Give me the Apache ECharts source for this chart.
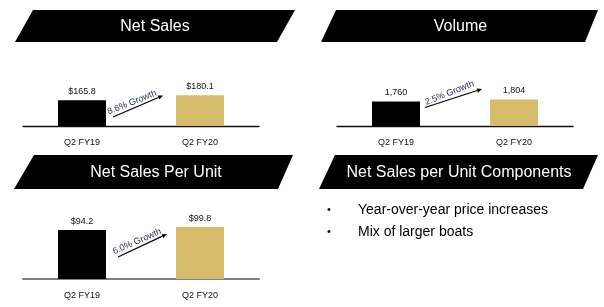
<!DOCTYPE html>
<html>
<head>
<meta charset="utf-8">
<script src="https://cdn.jsdelivr.net/npm/echarts@6/dist/echarts.min.js"></script>
<style>
html,body{margin:0;padding:0;background:#fff;}
#c{width:604px;height:307px;}
</style>
</head>
<body>
<div id="c"></div>
<script>
const categories = ['Q2 FY19', 'Q2 FY20'];
const netSales = [165.8, 180.1];
const volume = [1760, 1804];
const netSalesPerUnit = [94.2, 99.8];
const growthLabels = ['8.6% Growth', '2.5% Growth', '6.0% Growth'];
const panelTitles = ['Net Sales', 'Volume', 'Net Sales Per Unit', 'Net Sales per Unit Components'];
const bullets = ['Year-over-year price increases', 'Mix of larger boats'];

const FONT = '"Liberation Sans", Arial, sans-serif';
const barColors = ['#000000', '#D6BB6B'];

const chart = echarts.init(document.getElementById('c'), null, {renderer: 'canvas'});

function xAxisCfg(gi, lineColor, lineWidth) {
  return {
    type: 'category', gridIndex: gi, data: categories,
    axisLine: {lineStyle: {color: lineColor, width: lineWidth}},
    axisTick: {alignWithLabel: true, length: 4, lineStyle: {color: '#333', width: 1}},
    axisLabel: {margin: 12, fontSize: 9, color: '#111', fontFamily: FONT}
  };
}
function yAxisCfg(gi, min, max) {
  return {type: 'value', gridIndex: gi, min: min, max: max, show: false, splitLine: {show: false}};
}
function barSeries(gi, data, fmt) {
  return {
    type: 'bar', xAxisIndex: gi, yAxisIndex: gi, data: data, barWidth: 48,
    itemStyle: {color: p => barColors[p.dataIndex]},
    label: {show: true, position: 'top', distance: 4, fontSize: 9, color: '#111', fontFamily: FONT, formatter: fmt},
    silent: true
  };
}

// banner parallelograms [tl, tr, br, bl]
const banners = [
  [[33,10],[295,10],[277,42],[15,42]],
  [[336,10],[598,10],[585,42],[321,42]],
  [[34,155],[293,155],[278,189],[14,189]],
  [[335,155],[598,155],[583,189],[319,189]]
];

const graphics = [];
banners.forEach((b, i) => {
  graphics.push({type: 'polygon', shape: {points: b}, style: {fill: '#000'}, silent: true});
  const cx = (b[0][0] + b[2][0]) / 2, cy = (b[0][1] + b[2][1]) / 2;
  graphics.push({type: 'text', x: cx, y: cy + 0.5, style: {text: panelTitles[i], fill: '#fff', font: '16px ' + FONT, align: 'center', verticalAlign: 'middle'}, silent: true});
});

// growth arrows (annotations)
const arrows = [
  {from: [113,117], to: [163,95.5], tx: 132, ty: 102.5, rot: 22},
  {from: [425,107.5], to: [482,89], tx: 449.5, ty: 93, rot: 22},
  {from: [118,257], to: [167,234], tx: 137, ty: 241.5, rot: 24}
];
arrows.forEach((a, i) => {
  const dx = a.to[0] - a.from[0], dy = a.to[1] - a.from[1];
  const len = Math.sqrt(dx*dx + dy*dy);
  const ux = dx/len, uy = dy/len;
  const hl = 5, hw = 2.2;
  const bx = a.to[0] - ux*hl, by = a.to[1] - uy*hl;
  graphics.push({type: 'line', shape: {x1: a.from[0], y1: a.from[1], x2: bx, y2: by}, style: {stroke: '#000', lineWidth: 1.2}, silent: true});
  graphics.push({type: 'polygon', shape: {points: [a.to, [bx - uy*hw, by + ux*hw], [bx + uy*hw, by - ux*hw]]}, style: {fill: '#000'}, silent: true});
  graphics.push({type: 'text', x: a.tx, y: a.ty, rotation: a.rot * Math.PI / 180, style: {text: growthLabels[i], fill: '#1c2b4a', font: '9px ' + FONT, align: 'center', verticalAlign: 'middle'}, silent: true});
});

// bullets
bullets.forEach((t, i) => {
  const y = 210 + i * 22;
  graphics.push({type: 'text', x: 329, y: y, style: {text: '•', fill: '#000', font: '11px ' + FONT, align: 'center', verticalAlign: 'middle'}, silent: true});
  graphics.push({type: 'text', x: 358, y: y, style: {text: t, fill: '#000', font: '14px ' + FONT, align: 'left', verticalAlign: 'middle'}, silent: true});
});

chart.setOption({
  animation: false,
  backgroundColor: '#fff',
  grid: [
    {left: 23, width: 236, top: 56, height: 70},
    {left: 337, width: 236, top: 56, height: 70},
    {left: 23, width: 236, top: 204, height: 75}
  ],
  xAxis: [xAxisCfg(0, '#111', 1.3), xAxisCfg(1, '#111', 1.3), xAxisCfg(2, '#808080', 2)],
  yAxis: [yAxisCfg(0, 92, 292), yAxisCfg(1, 1220, 2760), yAxisCfg(2, 0, 144)],
  series: [
    barSeries(0, netSales, p => '$' + p.value.toFixed(1)),
    barSeries(1, volume, p => p.value.toLocaleString('en-US')),
    barSeries(2, netSalesPerUnit, p => '$' + p.value.toFixed(1))
  ],
  graphic: graphics
});
</script>
</body>
</html>
